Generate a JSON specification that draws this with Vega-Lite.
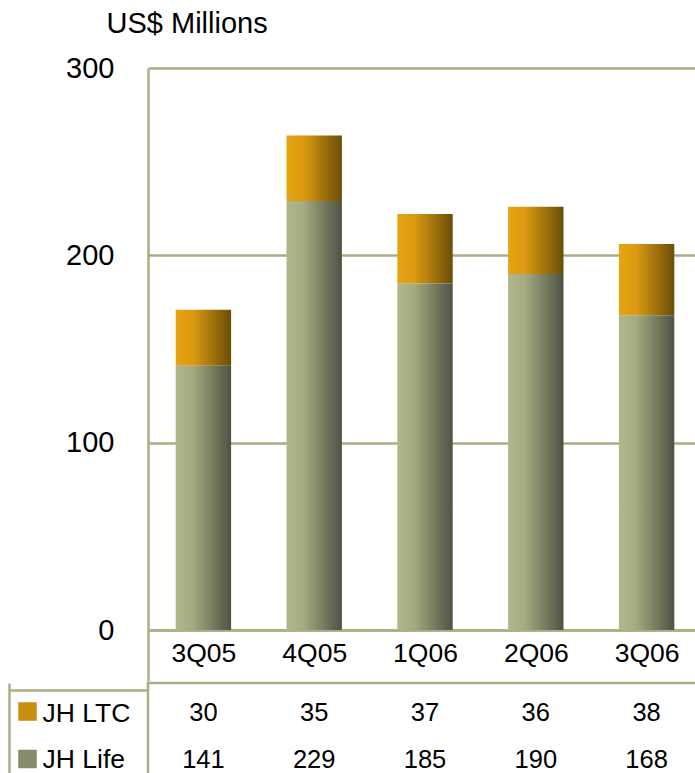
{
  "$schema": "https://vega.github.io/schema/vega-lite/v6.json",
  "padding": {"left": 6, "top": 9, "right": 0, "bottom": 0},
  "spacing": -19,
  "resolve": {"legend": {"color": "independent"}},
  "config": {
    "font": "Liberation Sans",
    "view": {"stroke": null},
    "axis": {"labelColor": "#000000", "titleColor": "#000000", "labelFont": "Liberation Sans", "titleFont": "Liberation Sans"}
  },
  "datasets": {
    "d": [
      {"quarter": "3Q05", "series": "JH LTC", "value": 30},
      {"quarter": "4Q05", "series": "JH LTC", "value": 35},
      {"quarter": "1Q06", "series": "JH LTC", "value": 37},
      {"quarter": "2Q06", "series": "JH LTC", "value": 36},
      {"quarter": "3Q06", "series": "JH LTC", "value": 38},
      {"quarter": "3Q05", "series": "JH Life", "value": 141},
      {"quarter": "4Q05", "series": "JH Life", "value": 229},
      {"quarter": "1Q06", "series": "JH Life", "value": 185},
      {"quarter": "2Q06", "series": "JH Life", "value": 190},
      {"quarter": "3Q06", "series": "JH Life", "value": 168}
    ]
  },
  "vconcat": [
    {
      "width": 554,
      "height": 562,
      "data": {"name": "d"},
      "mark": {"type": "bar", "width": {"band": 0.5}},
      "encoding": {
        "x": {
          "field": "quarter", "type": "nominal",
          "sort": ["3Q05", "4Q05", "1Q06", "2Q06", "3Q06"],
          "scale": {"type": "band", "paddingInner": 0, "paddingOuter": 0},
          "axis": {
            "title": null, "labelAngle": 0, "labelFontSize": 26.5, "labelPadding": -41,
            "tickSize": 51, "tickWidth": 2.5, "tickBand": "extent",
            "tickColor": {"condition": {"test": "datum.extra", "value": "#A9AF84"}, "value": "transparent"},
            "domainColor": "#A9AF84", "domainWidth": 2.5, "grid": false
          }
        },
        "y": {
          "field": "value", "type": "quantitative", "stack": "zero",
          "scale": {"domain": [0, 300], "nice": false},
          "axis": {
            "values": [0, 100, 200, 300], "ticks": false, "labelFontSize": 29, "labelPadding": 34,
            "domainColor": "#A9AF84", "domainWidth": 2.5,
            "grid": true, "gridColor": "#A9AF84", "gridWidth": 2.5,
            "title": "US$ Millions", "titleAngle": 0, "titleAlign": "left", "titleBaseline": "alphabetic",
            "titleX": -42, "titleY": -36, "titleFontSize": 29, "titleFontWeight": "normal"
          }
        },
        "detail": {"field": "series"},
        "order": {"field": "series", "sort": "descending"},
        "color": {
          "condition": {
            "test": "datum.series === 'JH LTC'",
            "value": {"gradient": "linear", "x1": 0, "y1": 0, "x2": 1, "y2": 0, "stops": [
              {"offset": 0, "color": "#E6A412"}, {"offset": 0.3, "color": "#DC9B10"}, {"offset": 1, "color": "#6A4E08"}]}
          },
          "value": {"gradient": "linear", "x1": 0, "y1": 0, "x2": 1, "y2": 0, "stops": [
            {"offset": 0, "color": "#B1B68C"}, {"offset": 0.3, "color": "#A5AA80"}, {"offset": 1, "color": "#4D5342"}]}
        }
      }
    },
    {
      "width": 554,
      "height": 107,
      "view": {"stroke": "#A9AF84", "strokeWidth": 2.5},
      "data": {"name": "d"},
      "encoding": {
        "x": {
          "field": "quarter", "type": "nominal",
          "sort": ["3Q05", "4Q05", "1Q06", "2Q06", "3Q06"],
          "scale": {"type": "band", "paddingInner": 0, "paddingOuter": 0},
          "axis": null
        },
        "y": {
          "field": "series", "type": "nominal",
          "sort": ["JH LTC", "JH Life"],
          "scale": {"type": "band", "paddingInner": 0, "paddingOuter": 0.145},
          "axis": {
            "title": null, "offset": 139, "labelAlign": "left", "labelFontSize": 26.5, "labelPadding": 106,
            "tickSize": -139, "tickWidth": 2.5, "tickBand": "extent",
            "tickColor": {"condition": {"test": "datum.extra", "value": "#A9AF84"}, "value": "transparent"},
            "domainColor": "#A9AF84", "domainWidth": 2.5, "grid": false
          }
        }
      },
      "layer": [
        {
          "mark": {"type": "text", "fontSize": 25.5, "color": "#000000", "baseline": "middle"},
          "encoding": {"text": {"field": "value", "type": "quantitative"}}
        },
        {
          "mark": {"type": "square", "opacity": 0},
          "encoding": {
            "color": {
              "field": "series", "type": "nominal",
              "scale": {"domain": ["JH LTC", "JH Life"], "range": ["#C98D0F", "#858B6B"]},
              "legend": {
                "orient": "none", "legendX": -130, "legendY": 19, "title": null, "direction": "vertical",
                "symbolType": "square", "symbolSize": 342, "symbolStrokeWidth": 0, "symbolOpacity": 1,
                "labelExpr": "''", "labelFontSize": 1, "rowPadding": 28.5, "padding": 0
              }
            }
          }
        }
      ]
    }
  ]
}
